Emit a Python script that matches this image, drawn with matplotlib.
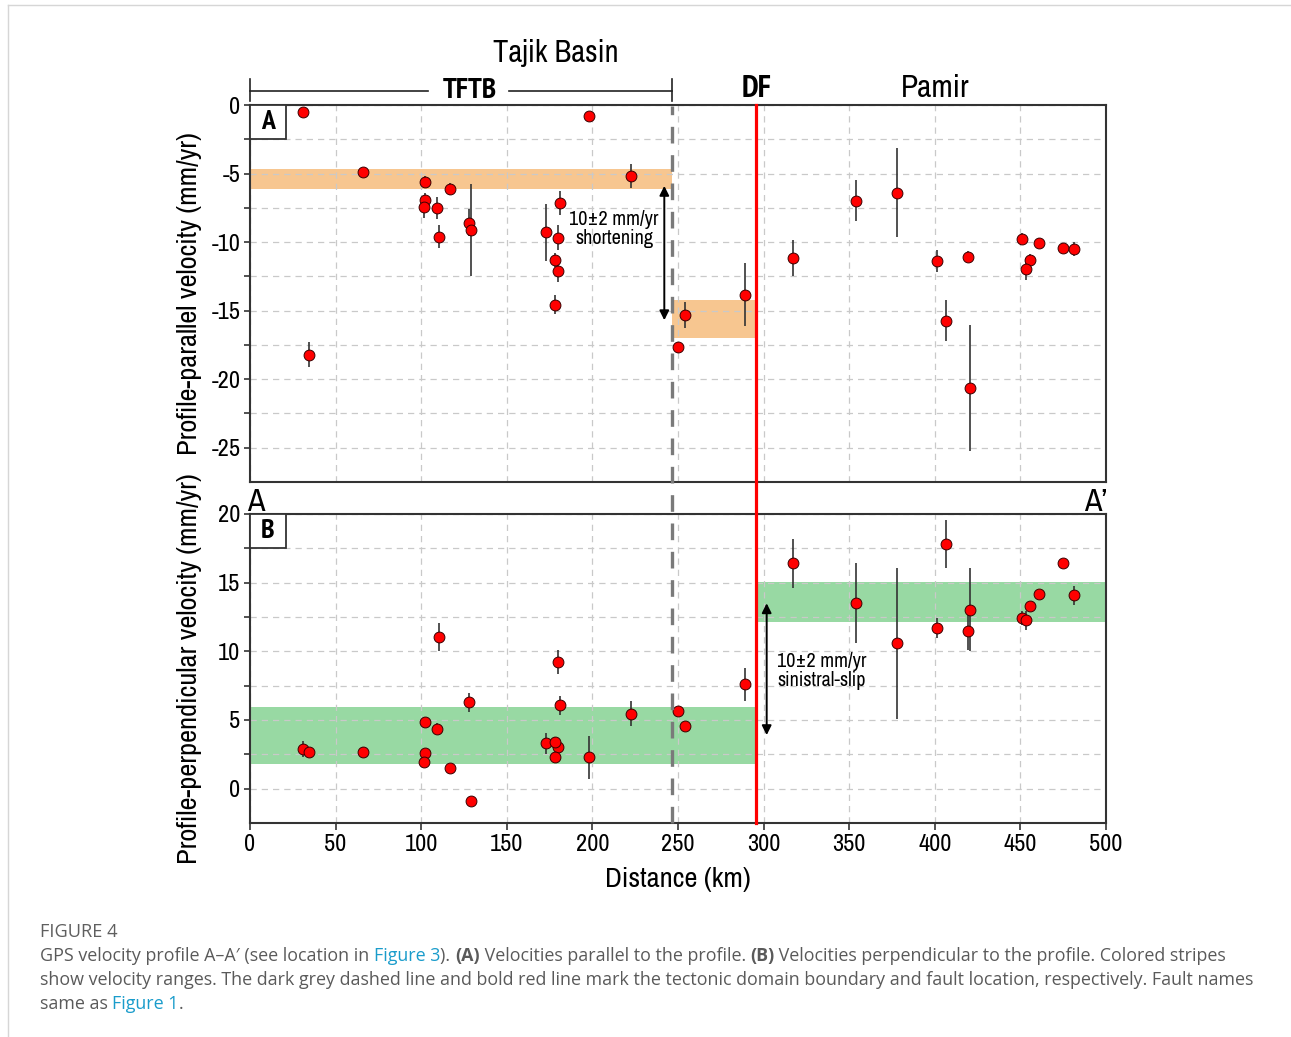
import matplotlib
matplotlib.use("Agg")
import matplotlib.pyplot as plt
import matplotlib.transforms as mtransforms
from matplotlib.patches import Rectangle
from matplotlib.lines import Line2D
from matplotlib import font_manager

plt.rcParams['axes.unicode_minus'] = False

# ---------------- data ----------------
distance_km = [31.2, 34.7, 66.2, 102.2, 102.2, 101.8, 109.0, 110.6, 116.8, 128.1,
               129.1, 172.9, 181.1, 179.7, 178.2, 179.7, 178.2, 198.2, 222.5, 250.2,
               254.1, 289.1, 317.4, 353.8, 377.7, 401.1, 406.3, 419.6, 420.6, 450.7,
               455.8, 453.5, 461.0, 475.1, 481.3]
v_parallel = [-0.5, -18.2, -4.86, -5.6, -6.9, -7.45, -7.48, -9.6, -6.15, -8.58,
              -9.1, -9.3, -7.17, -9.67, -11.3, -12.1, -14.58, -0.78, -5.17, -17.66,
              -15.33, -13.83, -11.18, -6.97, -6.39, -11.37, -15.74, -11.06, -20.67, -9.74,
              -11.27, -11.98, -10.03, -10.4, -10.5]
v_parallel_err = [0.3, 0.9, 0.3, 0.4, 0.5, 0.8, 0.8, 0.85, 0.45, 1.0,
                  3.35, 2.1, 0.87, 0.9, 0.5, 0.8, 0.7, 0.3, 0.87, 0.4,
                  0.95, 2.3, 1.3, 1.48, 3.25, 0.8, 1.5, 0.4, 4.6, 0.4,
                  0.4, 0.8, 0.3, 0.3, 0.5]
v_perp = [2.9, 2.65, 2.7, 4.84, 2.6, 1.97, 4.36, 11.05, 1.48, 6.3,
          -0.88, 3.31, 6.06, 3.02, 3.43, 9.22, 2.29, 2.29, 5.45, 5.62,
          4.57, 7.59, 16.4, 13.53, 10.6, 11.7, 17.8, 11.5, 13.04, 12.43,
          13.3, 12.26, 14.14, 16.45, 14.09]
v_perp_err = [0.6, 0.3, 0.3, 0.3, 0.3, 0.3, 0.4, 1.0, 0.3, 0.7,
              0.3, 0.75, 0.7, 0.3, 0.3, 0.85, 0.3, 1.55, 0.9, 0.3,
              0.3, 1.2, 1.8, 2.9, 5.5, 0.75, 1.75, 1.4, 3.0, 0.5,
              0.3, 0.7, 0.3, 0.3, 0.7]

# velocity stripes: (x_start, x_end, v_low, v_high)
parallel_stripes = [(0, 246.3, -6.15, -4.69), (246.3, 295.6, -17.0, -14.26)]
perp_stripes = [(0, 295.6, 1.8, 5.93), (295.6, 500, 12.14, 15.06)]
domain_boundary_km = 246.3
fault_km = 295.6

x_ticks = [0, 50, 100, 150, 200, 250, 300, 350, 400, 450, 500]
par_ticks = [-25, -20, -15, -10, -5, 0]
perp_ticks = [0, 5, 10, 15, 20]

# ---------------- fonts ----------------
entries = font_manager.fontManager.ttflist
names = {f.name for f in entries}
bold_names = {f.name for f in entries if (f.weight if isinstance(f.weight, int) else 400) >= 600
              or str(f.weight) in ('bold', 'semibold', 'demibold', 'heavy', 'black')}


def pick(prefs, pool):
    for p in prefs:
        if p in pool:
            return p
    return 'DejaVu Sans'


COND = pick(['Liberation Sans Narrow', 'Archivo Narrow', 'PT Sans Narrow', 'Roboto Condensed',
             'Fira Sans Condensed'], names)
COND_B = pick(['Liberation Sans Narrow', 'Archivo Narrow', 'PT Sans Narrow', 'Roboto Condensed',
               'Fira Sans Condensed', 'IBM Plex Sans Condensed'], bold_names)
CAP = pick(['Open Sans', 'Noto Sans', 'Lato'], names)
plt.rcParams['font.family'] = [COND, 'DejaVu Sans']
FB = [COND_B, 'DejaVu Sans']

W, H = 1291, 1037
fig = plt.figure(figsize=(W / 100, H / 100), dpi=100)
fig.patch.set_facecolor('white')


def fx(px):
    return px / W


def fy(py):
    return 1 - py / H


ax1 = fig.add_axes([fx(250), fy(482), fx(1106) - fx(250), fy(105) - fy(482)])
ax2 = fig.add_axes([fx(250), fy(823), fx(1106) - fx(250), fy(514) - fy(823)])

SPINE = '#333333'
GRID = '#c9c9c9'

for ax in (ax1, ax2):
    ax.set_xlim(0, 500)
    ax.set_xticks(x_ticks)
    for s in ax.spines.values():
        s.set_color(SPINE)
        s.set_linewidth(1.5)
    ax.set_axisbelow(True)
    ax.grid(True, which='major', axis='x', color=GRID, lw=0.9, ls=(0, (5, 4)))
    ax.grid(True, which='both', axis='y', color=GRID, lw=0.9, ls=(0, (5, 4)))
    ax.tick_params(axis='y', which='both', direction='out', length=4, width=1.2,
                   color=SPINE, labelsize=17.5, pad=3)
    ax.tick_params(axis='y', which='minor', labelleft=False)

ax1.set_ylim(-27.5, 0)
ax1.set_yticks(par_ticks)
ax1.set_yticks([-2.5, -7.5, -12.5, -17.5, -22.5], minor=True)
ax1.tick_params(axis='x', length=0, labelbottom=False)

ax2.set_ylim(-2.5, 20)
ax2.set_yticks(perp_ticks)
ax2.set_yticks([2.5, 7.5, 12.5, 17.5], minor=True)
ax2.tick_params(axis='x', direction='out', length=5, width=1.2, color=SPINE,
                labelsize=17.5, pad=3)

# stripes
for (x0, x1, lo, hi) in parallel_stripes:
    ax1.add_patch(Rectangle((x0, lo), x1 - x0, hi - lo, facecolor='#f7c690',
                            edgecolor='none', zorder=0.2))
for (x0, x1, lo, hi) in perp_stripes:
    ax2.add_patch(Rectangle((x0, lo), x1 - x0, hi - lo, facecolor='#98d9a3',
                            edgecolor='none', zorder=0.2))

# data
for ax, v, e in ((ax1, v_parallel, v_parallel_err), (ax2, v_perp, v_perp_err)):
    ax.errorbar(distance_km, v, yerr=e, fmt='none', ecolor='#333333',
                elinewidth=1.2, capsize=0, zorder=3)
    ax.plot(distance_km, v, ls='none', marker='o', ms=7.8, mfc='#ff0000',
            mec='#3a0000', mew=0.7, zorder=4)

# boundary lines spanning both panels
bt = mtransforms.blended_transform_factory(ax1.transData, fig.transFigure)
fig.add_artist(Line2D([domain_boundary_km, domain_boundary_km], [fy(823), fy(106)],
                      transform=bt, color='#7a7a7a', lw=2.4, ls=(0, (5, 3.5)), zorder=5))
fig.add_artist(Line2D([fault_km, fault_km], [fy(823), fy(105)], transform=bt,
                      color='#ff0000', lw=2.3, zorder=6))

# TFTB bracket
yb = fy(91)
fig.add_artist(Line2D([0, 104], [yb, yb], transform=bt, color='#222222', lw=1.2))
fig.add_artist(Line2D([151, domain_boundary_km], [yb, yb], transform=bt, color='#222222', lw=1.2))
for xe in (0, domain_boundary_km):
    fig.add_artist(Line2D([xe, xe], [fy(79), fy(101)], transform=bt, color='#222222', lw=1.2))
fig.text(128.5, fy(98), 'TFTB', transform=bt, ha='center', va='baseline',
         fontsize=21, fontweight='bold', family=FB)
fig.text(178.6, fy(62), 'Tajik Basin', transform=bt, ha='center', va='baseline', fontsize=22)
fig.text(296, fy(97), 'DF', transform=bt, ha='center', va='baseline',
         fontsize=22.5, fontweight='bold', family=FB)
fig.text(400, fy(97), 'Pamir', transform=bt, ha='center', va='baseline', fontsize=22.5)

# A / A' labels in the gap
fig.text(fx(247), fy(511), 'A', ha='left', va='baseline', fontsize=23)
fig.text(fx(1107), fy(511), 'A\u2019', ha='right', va='baseline', fontsize=23)

# panel letters
for ax, lab, hpx in ((ax1, 'A', 377), (ax2, 'B', 309)):
    wbox = 36 / 856
    hbox = 34 / hpx
    ax.add_patch(Rectangle((0, 1 - hbox), wbox, hbox, transform=ax.transAxes,
                           facecolor='white', edgecolor=SPINE, lw=1.3, zorder=7))
    ax.text(wbox / 2, 1 - hbox / 2, lab, transform=ax.transAxes, ha='center',
            va='center', fontsize=20, fontweight='bold', family=FB, zorder=8)

# arrows and annotations
ax1.annotate('', xy=(242, -5.9), xytext=(242, -15.7),
             arrowprops=dict(arrowstyle='<|-|>', color='black', lw=1.4,
                             mutation_scale=14, shrinkA=0, shrinkB=0), zorder=6)
ax1.text(212.6, -9.04, '10\u00b12 mm/yr\nshortening', ha='center', va='center',
         fontsize=14.5, linespacing=1.0, zorder=6)
ax2.annotate('', xy=(301.8, 13.5), xytext=(301.8, 3.9),
             arrowprops=dict(arrowstyle='<|-|>', color='black', lw=1.4,
                             mutation_scale=14, shrinkA=0, shrinkB=0), zorder=6)
ax2.text(334.1, 8.6, '10\u00b12 mm/yr\nsinistral-slip', ha='center', va='center',
         fontsize=14.5, linespacing=1.0, zorder=6)

# axis labels
ax1.set_ylabel('Profile-parallel velocity (mm/yr)', fontsize=20.5, va='center')
ax1.yaxis.set_label_coords((190 - 250) / 856, 0.5)
ax2.set_ylabel('Profile-perpendicular velocity (mm/yr)', fontsize=20.5, va='center')
ax2.yaxis.set_label_coords((190 - 250) / 856, 0.5)
ax2.set_xlabel('Distance (km)', fontsize=20.5, va='center')
ax2.xaxis.set_label_coords(0.5, (823 - 880) / 309)

# page frame lines
fig.add_artist(Line2D([fx(8), fx(8)], [0, fy(5)], color='#d6d6d6', lw=1))
fig.add_artist(Line2D([fx(8), 1], [fy(5), fy(5)], color='#d6d6d6', lw=1))

# ---------------- caption ----------------
renderer = fig.canvas.get_renderer()
ident = mtransforms.IdentityTransform()
TXT = '#5a5a5a'
LINK = '#1a9ccb'


def text_width(s, size, weight):
    t1 = fig.text(0, 0, s + '|', transform=ident, fontsize=size, fontweight=weight,
                  family=[CAP, 'DejaVu Sans'])
    t2 = fig.text(0, 0, '|', transform=ident, fontsize=size, fontweight=weight,
                  family=[CAP, 'DejaVu Sans'])
    w = t1.get_window_extent(renderer).width - t2.get_window_extent(renderer).width
    t1.remove()
    t2.remove()
    return w


line1 = [('GPS velocity profile A\u2013A\u2032 (see location in ', 'n'), ('Figure 3', 'l'),
         ('). ', 'n'), ('(A)', 'b'), (' Velocities parallel to the profile. ', 'n'),
         ('(B)', 'b'), (' Velocities perpendicular to the profile. Colored stripes', 'n')]
line2 = [('show velocity ranges. The dark grey dashed line and bold red line mark the tectonic '
          'domain boundary and fault location, respectively. Fault names', 'n')]
line3 = [('same as ', 'n'), ('Figure 1', 'l'), ('.', 'n')]

base = 10.5
w2 = text_width(line2[0][0], base, 'normal')
csize = base * (1221 / w2)


def draw_runs(runs, y_px, x_px=40):
    x = x_px
    for s, kind in runs:
        weight = 'bold' if kind == 'b' else 'normal'
        color = LINK if kind == 'l' else TXT
        fig.text(x, H - y_px, s, transform=ident, fontsize=csize, fontweight=weight,
                 color=color, va='center', ha='left', family=[CAP, 'DejaVu Sans'])
        x += text_width(s, csize, weight)


fig.text(40, H - 932, 'FIGURE 4', transform=ident, fontsize=csize * 1.02, color='#5f5f5f',
         va='center', ha='left', family=[CAP, 'DejaVu Sans'])
draw_runs(line1, 956)
draw_runs(line2, 980)
draw_runs(line3, 1004)

fig.savefig('out.png', dpi=100, facecolor='white')
